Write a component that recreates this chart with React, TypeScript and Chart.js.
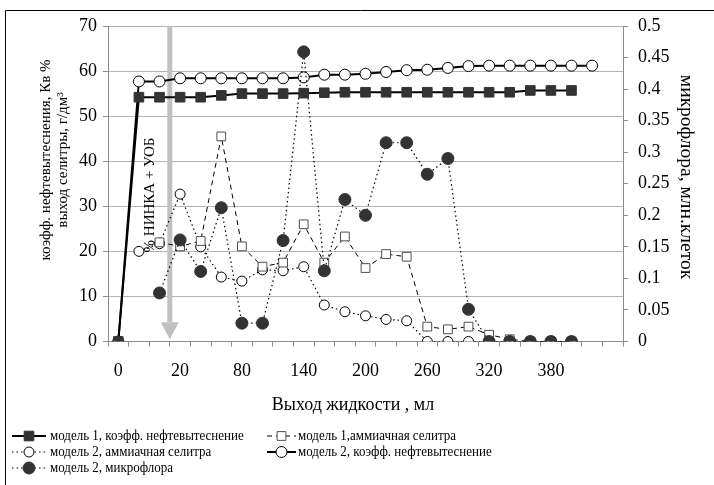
import React, { useEffect, useRef } from "react";
import { Chart, registerables } from "chart.js";

Chart.register(...registerables);

// ---------- data ----------
const categories = [
  "0", "5", "10", "20", "40", "60", "80", "100", "120", "140", "160", "180", "200",
  "220", "240", "260", "280", "300", "320", "340", "360", "380", "400", "420", "440",
];
const xTickLabels = ["0", "20", "80", "140", "200", "260", "320", "380"];

const model1Koeff = [
  0, 54.2, 54.2, 54.2, 54.2, 54.6, 55.0, 55.0, 55.0, 55.1, 55.2, 55.3, 55.3,
  55.3, 55.3, 55.3, 55.3, 55.3, 55.3, 55.3, 55.7, 55.7, 55.7, null, null,
];
const model1Ammonium = [
  null, null, 22.0, 21.1, 22.3, 45.5, 21.1, 16.6, 17.5, 26.0, 17.5, 23.3, 16.3,
  19.4, 18.8, 3.3, 2.7, 3.3, 1.5, 0.5, 0, 0, 0, null, null,
];
const model2Ammonium = [
  null, 20.0, 21.7, 32.7, 21.0, 14.3, 13.4, 15.9, 15.7, 16.6, 8.1, 6.6, 5.7,
  4.9, 4.6, 0, 0, 0, 0, 0, 0, 0, 0, null, null,
];
const model2Koeff = [
  0, 57.7, 57.7, 58.4, 58.4, 58.4, 58.4, 58.4, 58.4, 58.6, 59.2, 59.2, 59.4,
  59.8, 60.2, 60.3, 60.7, 61.1, 61.2, 61.2, 61.2, 61.2, 61.2, 61.2, null,
];
const model2Microflora = [
  null, null, 0.077, 0.161, 0.111, 0.212, 0.029, 0.029, 0.16, 0.459, 0.112, 0.225, 0.2,
  0.315, 0.315, 0.265, 0.29, 0.051, 0, 0, 0, 0, 0, null, null,
];

const seriesNames = [
  "модель 1, коэфф. нефтевытеснение",
  "модель 1,аммиачная селитра",
  "модель 2, аммиачная селитра",
  "модель 2, коэфф. нефтевытеснение",
  "модель 2, микрофлора",
];

const xTitle = "Выход жидкости , мл";
const yLeftTitle = ["коэфф. нефтевытеснения, Кв %", "выход селитры, г/дм³"];
const yRightTitle = "микрофлора, млн.клеток";
const noteText = "% НИНКА + УОБ";
const arrowAtIndex = 2.5;
const arrowTipValue = 0.5;
const noteAtIndex = 1.55;
const noteAtValue = 32.5;

// ---------- styles ----------
const FONT = "'Liberation Serif', 'Times New Roman', serif";
const GRID = "#b3b3b3";
const AXIS = "#8c8c8c";
const DARK = "#333333";

type Style = {
  line: string;
  lineWidth: number;
  dash: number[];
  marker: "rect" | "circle";
  r: number;
  fill: string;
  stroke: string;
};

const styles: Style[] = [
  { line: "#000", lineWidth: 2, dash: [], marker: "rect", r: 6.8, fill: DARK, stroke: DARK },
  { line: "#000", lineWidth: 1, dash: [5, 4], marker: "rect", r: 6.2, fill: "#fff", stroke: "#505050" },
  { line: "#000", lineWidth: 1.2, dash: [1.5, 3], marker: "circle", r: 5, fill: "#fff", stroke: "#000" },
  { line: "#000", lineWidth: 2, dash: [], marker: "circle", r: 5.5, fill: "#fff", stroke: "#000" },
  { line: "#000", lineWidth: 1.2, dash: [1.5, 3], marker: "circle", r: 6, fill: DARK, stroke: DARK },
];
const drawOrder = [0, 2, 3, 4, 1];

function drawMarker(ctx: CanvasRenderingContext2D, s: Style, x: number, y: number) {
  ctx.save();
  ctx.setLineDash([]);
  ctx.fillStyle = s.fill;
  ctx.strokeStyle = s.stroke;
  ctx.lineWidth = 1;
  ctx.beginPath();
  if (s.marker === "rect") {
    const h = Math.SQRT1_2 * s.r;
    ctx.rect(x - h, y - h, 2 * h, 2 * h);
  } else {
    ctx.arc(x, y, s.r, 0, Math.PI * 2);
  }
  ctx.fill();
  ctx.stroke();
  ctx.restore();
}

const decorPlugin = {
  id: "decor",
  beforeDatasetsDraw(chart: any) {
    const { ctx, chartArea, scales } = chart;
    const x = scales.x.getPixelForValue(arrowAtIndex);
    const tipY = scales.y.getPixelForValue(arrowTipValue);
    const headH = 17;
    const headW = 18;
    const barW = 5;
    ctx.save();
    ctx.fillStyle = "#c0c0c0";
    ctx.fillRect(x - barW / 2, chartArea.top, barW, tipY - headH - chartArea.top);
    ctx.beginPath();
    ctx.moveTo(x - headW / 2, tipY - headH);
    ctx.lineTo(x + headW / 2, tipY - headH);
    ctx.lineTo(x, tipY);
    ctx.closePath();
    ctx.fill();
    const tx = scales.x.getPixelForValue(noteAtIndex);
    const ty = scales.y.getPixelForValue(noteAtValue);
    ctx.translate(tx, ty);
    ctx.rotate(-Math.PI / 2);
    ctx.font = `15px ${FONT}`;
    ctx.textAlign = "center";
    ctx.textBaseline = "middle";
    ctx.fillStyle = "#000";
    ctx.fillText(noteText, 0, 0);
    ctx.restore();
  },
  afterDraw(chart: any) {
    const { ctx } = chart;
    ctx.save();
    // outer frame
    ctx.strokeStyle = "#000";
    ctx.lineWidth = 1;
    ctx.beginPath();
    ctx.moveTo(5.5, 490);
    ctx.lineTo(5.5, 10.5);
    ctx.lineTo(720, 10.5);
    ctx.stroke();

    ctx.fillStyle = "#000";
    ctx.textAlign = "center";
    ctx.textBaseline = "middle";
    // x title
    ctx.font = `18px ${FONT}`;
    ctx.fillText(xTitle, 353, 405);
    // left title
    ctx.font = `15px ${FONT}`;
    ctx.save();
    ctx.translate(46, 160);
    ctx.rotate(-Math.PI / 2);
    ctx.fillText(yLeftTitle[0], 0, 0);
    ctx.restore();
    ctx.save();
    ctx.translate(63, 160);
    ctx.rotate(-Math.PI / 2);
    ctx.fillText(yLeftTitle[1], 0, 0);
    ctx.restore();
    // right title
    ctx.save();
    ctx.translate(686, 177);
    ctx.rotate(Math.PI / 2);
    ctx.font = `19.5px ${FONT}`;
    ctx.fillText(yRightTitle, 0, 0);
    ctx.restore();

    // legend
    ctx.font = `15px ${FONT}`;
    ctx.textAlign = "left";
    const rowsY = [436, 452, 468];
    const cols = [
      { x0: 12, x1: 46, text: 50 },
      { x0: 267, x1: 296, text: 298 },
    ];
    const squeeze = 0.865;
    seriesNames.forEach((name, i) => {
      const col = cols[i % 2];
      const y = rowsY[Math.floor(i / 2)];
      const s = styles[i];
      ctx.save();
      ctx.strokeStyle = s.line;
      ctx.lineWidth = s.lineWidth;
      ctx.setLineDash(s.dash);
      ctx.beginPath();
      ctx.moveTo(col.x0, y);
      ctx.lineTo(col.x1, y);
      ctx.stroke();
      ctx.restore();
      drawMarker(ctx, s, (col.x0 + col.x1) / 2, y);
      ctx.save();
      ctx.translate(col.text, y);
      ctx.scale(squeeze, 1);
      ctx.fillStyle = "#000";
      ctx.fillText(name, 0, 0);
      ctx.restore();
    });
    ctx.restore();
  },
};

const seriesData = [model1Koeff, model1Ammonium, model2Ammonium, model2Koeff, model2Microflora];

export default function App() {
  const ref = useRef<HTMLCanvasElement>(null);
  useEffect(() => {
    if (!ref.current) return;
    const datasets = seriesData.map((d, i) => {
      const s = styles[i];
      return {
        label: seriesNames[i],
        data: d,
        yAxisID: i === 4 ? "y1" : "y",
        borderColor: s.line,
        borderWidth: s.lineWidth,
        borderDash: s.dash,
        pointStyle: s.marker,
        pointRadius: s.r,
        pointBackgroundColor: s.fill,
        pointBorderColor: s.stroke,
        pointBorderWidth: 1,
        tension: 0,
        spanGaps: false,
        fill: false,
        order: drawOrder[i],
      };
    });
    const tickFont = { family: FONT, size: 18 };
    const chart = new Chart(ref.current, {
      type: "line",
      data: { labels: categories, datasets },
      options: {
        responsive: false,
        animation: false,
        layout: { padding: { top: 26, left: 0, right: 0, bottom: 0 } },
        plugins: { legend: { display: false }, tooltip: { enabled: false } },
        scales: {
          x: {
            type: "category",
            offset: true,
            grid: { offset: true, drawOnChartArea: false, drawTicks: true, tickLength: 5, color: AXIS },
            border: { color: AXIS },
            ticks: {
              autoSkip: false,
              maxRotation: 0,
              minRotation: 0,
              padding: 14,
              color: "#000",
              font: tickFont,
              callback: (_v: any, i: number) => (xTickLabels.includes(categories[i]) ? categories[i] : ""),
            },
            afterFit: (s: any) => {
              s.height = 143.5;
            },
          },
          y: {
            position: "left",
            min: 0,
            max: 70,
            ticks: { stepSize: 10, padding: 6, color: "#000", font: tickFont },
            grid: { color: GRID, tickLength: 5, tickColor: AXIS },
            border: { color: AXIS },
            afterFit: (s: any) => {
              s.width = 108;
            },
          },
          y1: {
            position: "right",
            min: 0,
            max: 0.5,
            ticks: {
              stepSize: 0.05,
              padding: 10,
              color: "#000",
              font: tickFont,
              callback: (v: any) => String(Math.round(Number(v) * 100) / 100),
            },
            grid: { drawOnChartArea: false, tickLength: 5, color: AXIS },
            border: { color: AXIS },
            afterFit: (s: any) => {
              s.width = 91;
            },
          },
        },
      },
      plugins: [decorPlugin],
    } as any);
    return () => chart.destroy();
  }, []);
  return (
    <div style={{ position: "fixed", left: 0, top: 0, width: 714, height: 485, background: "#fff" }}>
      <canvas ref={ref} width={714} height={485} style={{ display: "block" }} />
    </div>
  );
}
